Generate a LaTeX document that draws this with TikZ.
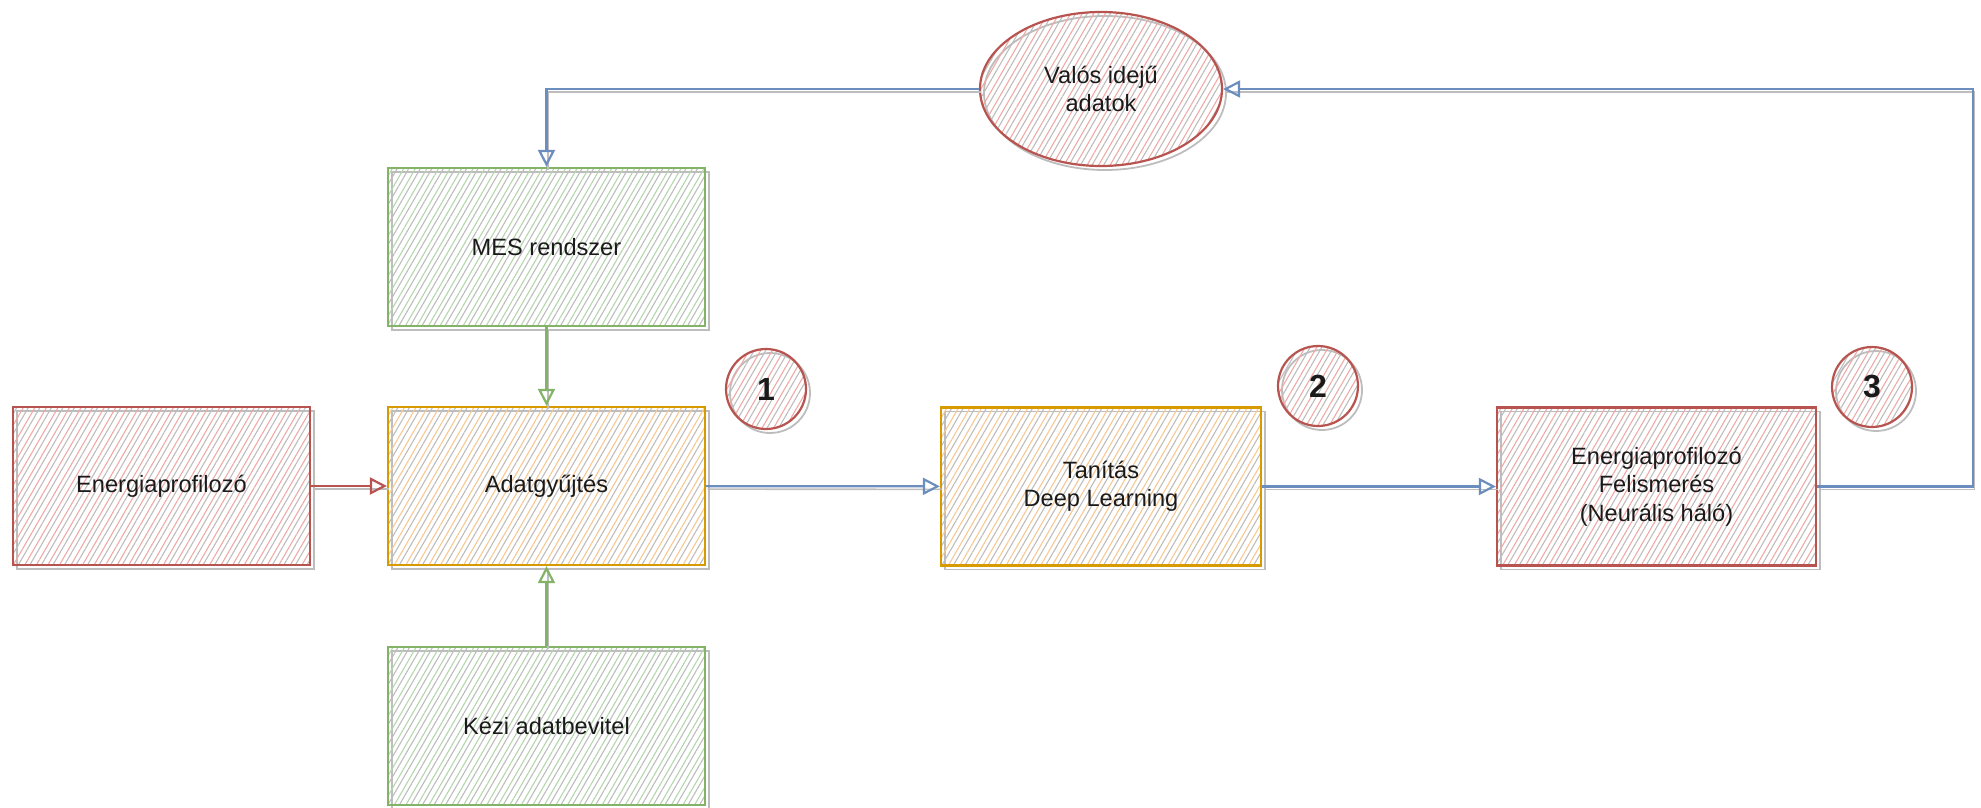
\documentclass[tikz,border=0pt]{standalone}
\usepackage{fontspec}
\setmainfont{Liberation Sans}
\usetikzlibrary{patterns.meta,arrows.meta,shapes.geometric}
\definecolor{rS}{HTML}{B85450}
\definecolor{rH}{HTML}{EFA9A7}
\definecolor{gS}{HTML}{82B366}
\definecolor{gH}{HTML}{B5D6AA}
\definecolor{oS}{HTML}{D79B00}
\definecolor{oH}{HTML}{F8C792}
\definecolor{bS}{HTML}{6C8EBF}
\definecolor{shd}{HTML}{BDBDBD}
\definecolor{txt}{HTML}{1A1A1A}
\begin{document}
\begin{tikzpicture}[x=0.5pt,y=-0.5pt,
  sk/.style 2 args={draw=#1, line width=1.1pt, text=txt,
    preaction={draw=shd, line width=0.9pt, transform canvas={shift={(2pt,-2pt)}}},
    preaction={pattern={Lines[angle=60,distance=5pt,line width=0.55pt,xshift=2.5pt]}, pattern color=shd},
    preaction={pattern={Lines[angle=60,distance=5pt,line width=0.55pt]}, pattern color=#2}},
  boxnode/.style={rectangle, minimum width=158.5pt, minimum height=79pt, inner sep=0pt,
    align=center, font=\fontsize{11.8}{14.2}\selectfont},
  ellnode/.style={ellipse, minimum width=121pt, minimum height=77pt, inner sep=0pt,
    align=center, font=\fontsize{11.8}{14.2}\selectfont},
  numnode/.style={circle, minimum size=40pt, inner sep=0pt, font=\fontsize{16}{19}\selectfont\bfseries},
  arr/.style={draw=#1, line width=1.1pt, -{Triangle[open,length=8.5pt,width=8.5pt]},
    preaction={draw=shd, line width=0.8pt, -, transform canvas={shift={(0.8pt,-1.5pt)}}}}
]
\useasboundingbox (0,0) rectangle (1981,808);

\node[boxnode, sk={rS}{rH}, minimum width=148.5pt] (ener) at (161.5,486) {Energiaprofiloz\'o};
\node[boxnode, sk={gS}{gH}] (mes) at (546.5,247) {MES rendszer};
\node[boxnode, sk={oS}{oH}] (adat) at (546.5,486) {Adatgy\H{u}jt\'es};
\node[boxnode, sk={gS}{gH}] (kezi) at (546.5,726) {K\'ezi adatbevitel};
\node[boxnode, sk={oS}{oH}, minimum width=160pt] (tan) at (1101,486.5) {Tan\'it\'as\\Deep Learning};
\node[boxnode, sk={rS}{rH}, minimum width=159.5pt] (fel) at (1656.5,486.5) {Energiaprofiloz\'o\\Felismer\'es\\(Neur\'alis h\'al\'o)};
\node[ellnode, sk={rS}{rH}] (ell) at (1101,89) {Val\'os idej\H{u}\\adatok};

\node[numnode, sk={rS}{rH}] (n1) at (766,389) {1};
\node[numnode, sk={rS}{rH}] (n2) at (1318,386) {2};
\node[numnode, sk={rS}{rH}] (n3) at (1872,387) {3};

\coordinate (rt) at (1973,89);

\draw[arr=rS] (ener) -- (adat);
\draw[arr=gS] (mes) -- (adat);
\draw[arr=gS] (kezi) -- (adat);
\draw[arr=bS] (adat) -- (tan);
\draw[arr=bS] (tan) -- (fel);
\draw[arr=bS] (ell.west) -| (mes.north);
\draw[arr=bS] (fel.east) -| (rt) -- (ell.east);
\end{tikzpicture}
\end{document}
